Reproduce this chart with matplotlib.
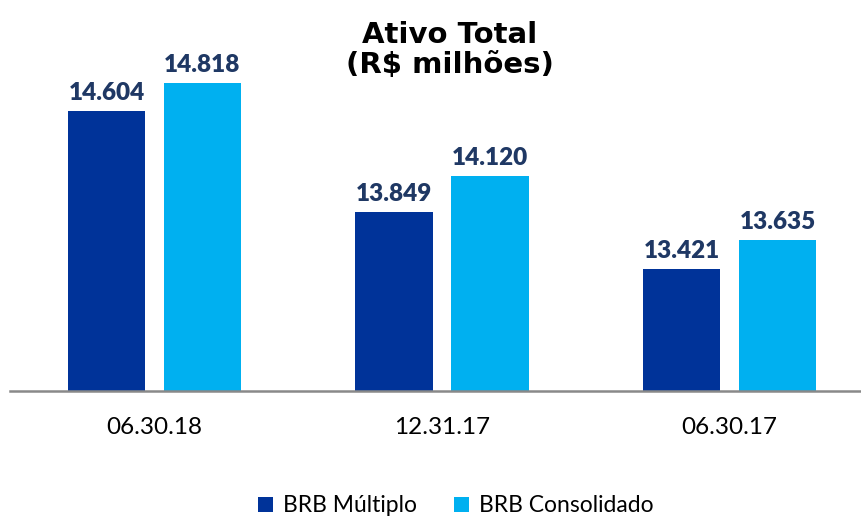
import numpy as np
import matplotlib.pyplot as plt

# Data
periods = ['06.30.18', '12.31.17', '06.30.17']
brb_multiplo = [14.604, 13.849, 13.421]
brb_consolidado = [14.818, 14.120, 13.635]
label_multiplo = ['14.604', '13.849', '13.421']
label_consolidado = ['14.818', '14.120', '13.635']

dark_blue = '#003399'
light_blue = '#00B0F0'
label_color = '#1F3864'

W, H = 861, 519
fig = plt.figure(figsize=(W / 100, H / 100), dpi=100)

# axes placed in pixel terms: baseline at y=391, top at y=40, left at x=10
ax = fig.add_axes([10 / W, (H - 391) / H, (W - 10) / W, (391 - 40) / H])

x = np.arange(len(periods))
width = 0.268
offset = 0.167

bars1 = ax.bar(x - offset, [v - 12.5 for v in brb_multiplo], width, bottom=12.5,
               color=dark_blue, label='BRB Múltiplo')
bars2 = ax.bar(x + offset, [v - 12.5 for v in brb_consolidado], width, bottom=12.5,
               color=light_blue, label='BRB Consolidado')

for bars, labels in [(bars1, label_multiplo), (bars2, label_consolidado)]:
    for b, lab in zip(bars, labels):
        ax.annotate(lab, (b.get_x() + b.get_width() / 2, b.get_y() + b.get_height()),
                    xytext=(0, 5), textcoords='offset points', ha='center', va='bottom',
                    fontsize=17.5, fontweight='heavy', color=label_color, family='Lato')

ax.set_ylim(12.5, 12.5 + 351 / 132.9)
ax.set_xlim((10 - 154.5) / 287.5, (861 - 154.5) / 287.5)

for s in ['top', 'right', 'left']:
    ax.spines[s].set_visible(False)
ax.spines['bottom'].set_color('#898989')
ax.spines['bottom'].set_linewidth(1.8)
ax.set_yticks([])
ax.set_xticks(x)
ax.set_xticklabels(periods, fontsize=17.5, family='Lato')
ax.tick_params(axis='x', length=0, pad=19)

fig.text(450 / W, 1 - 50 / H, 'Ativo Total\n(R$ milhões)', ha='center', va='center',
         fontsize=21, fontweight='bold', family='DejaVu Sans', linespacing=1.12)

fig.legend(loc='center', bbox_to_anchor=(456 / W, 1 - 506 / H), ncol=2, frameon=False,
           prop={'family': 'Lato', 'size': 16.5}, handlelength=0.65, handleheight=0.65,
           handletextpad=0.45, columnspacing=1.6)

plt.savefig('out.png', dpi=100)
